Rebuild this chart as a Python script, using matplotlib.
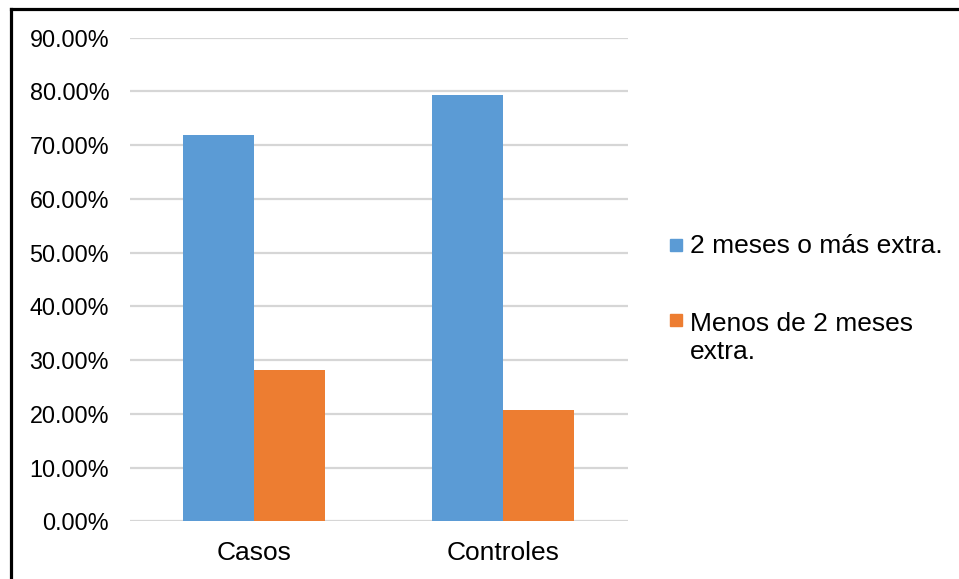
import matplotlib
matplotlib.use("Agg")
import matplotlib.pyplot as plt
from matplotlib.lines import Line2D
from matplotlib.patches import Rectangle
from matplotlib.ticker import FuncFormatter
import numpy as np

plt.rcParams["font.family"] = ["Liberation Sans", "DejaVu Sans"]

groups = ["Casos", "Controles"]
series_names = ["2 meses o más extra.", "Menos de 2 meses\nextra."]
mas_de_2 = [0.719, 0.793]   # 2 meses o más extra
menos_de_2 = [0.281, 0.207]  # menos de 2 meses extra
colors = ["#5B9BD5", "#ED7D31"]

W, H = 959, 579
fig = plt.figure(figsize=(W / 100, H / 100), dpi=100)
ax = fig.add_axes([130 / W, (H - 521.3) / H, 497.5 / W, (521.3 - 37.7) / H])

x = np.arange(len(groups))
w = 1 / 3.5
bars1 = ax.bar(x - w / 2, mas_de_2, w, color=colors[0], zorder=3)
bars2 = ax.bar(x + w / 2, menos_de_2, w, color=colors[1], zorder=3)

ax.set_xlim(-0.5, 1.5)
ax.set_ylim(0, 0.9)
ax.set_yticks(np.arange(0, 0.91, 0.1))
ax.yaxis.set_major_formatter(FuncFormatter(lambda v, p: f"{v * 100:.2f}%"))
ax.set_xticks(x)
ax.set_xticklabels(groups)
ax.grid(axis="y", color="#d6d6d6", linewidth=1.6, zorder=0)
ax.tick_params(axis="y", length=0, pad=15, labelsize=16.8, labelcolor="#000000")
ax.tick_params(axis="x", length=0, pad=14, labelsize=19, labelcolor="#000000")
for s in ax.spines.values():
    s.set_visible(False)

# legend drawn at the right of the plot area
fs = 19
fig.add_artist(Rectangle((670 / W, (H - 251) / H), 12 / W, 12 / H,
                         transform=fig.transFigure, color=colors[0]))
fig.text(690 / W, (H - 253) / H, series_names[0], fontsize=fs, va="baseline")
fig.add_artist(Rectangle((670 / W, (H - 326) / H), 12 / W, 12 / H,
                         transform=fig.transFigure, color=colors[1]))
fig.text(690 / W, (H - 331) / H, series_names[1].split("\n")[0], fontsize=fs, va="baseline")
fig.text(690 / W, (H - 359) / H, series_names[1].split("\n")[1], fontsize=fs, va="baseline")

# outer frame (cut at right and bottom)
fx, fy = 10.5 / W, (H - 9) / H
fig.add_artist(Line2D([fx, fx], [0, fy], transform=fig.transFigure, color="black", lw=2.3))
fig.add_artist(Line2D([fx, 1], [fy, fy], transform=fig.transFigure, color="black", lw=2.3))

fig.savefig("out.png", dpi=100)
